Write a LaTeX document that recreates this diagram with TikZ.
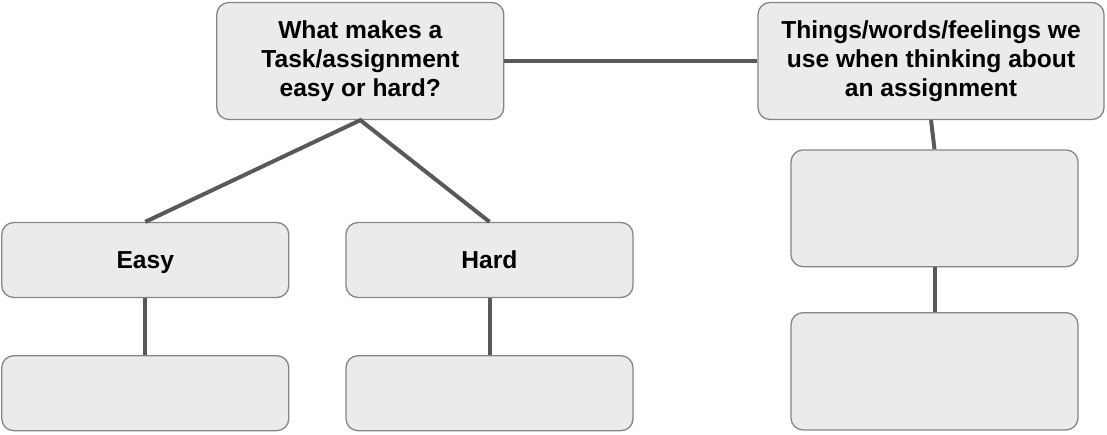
\documentclass[tikz,border=0pt]{standalone}
\usepackage{fontspec}
\setmainfont{Liberation Sans}
\usepackage{tikz}

\begin{document}
\begin{tikzpicture}[x=1pt,y=-1pt,
  box/.style={draw=black!48,line width=1.3pt,fill=black!8,rounded corners=12pt,
    inner sep=0pt,align=center,minimum width=287pt,
    font=\bfseries\fontsize{24.6}{29.3}\selectfont},
  single/.style={box,minimum height=75pt,text height=17.5pt,text depth=0pt},
  link/.style={draw=black!65,line width=4pt}]
\useasboundingbox (0,0) rectangle (1107,434);

\node[box,minimum height=117pt] (task) at (360.3,61) {What makes a\\Task/assignment\\easy or hard?};
\node[box,minimum width=346pt,minimum height=117pt] (things) at (931,61) {Things/words/feelings we\\use when thinking about\\an assignment};

\node[single] (easy) at (145.3,260) {Easy};
\node[single] (hard) at (489.5,260) {Hard};
\node[box,minimum height=75pt] (easylist) at (145.3,393.2) {};
\node[box,minimum height=75pt] (hardlist) at (489.5,393.2) {};

\node[box,minimum height=116.7pt] (words) at (934.5,208.3) {};
\node[box,minimum height=117.3pt] (feelings) at (934.5,371.3) {};

\draw[link] (task.east) -- (things.west);
\draw[link] (easy.north) -- (task.south) -- (hard.north);
\draw[link] (easy) -- (easylist);
\draw[link] (hard) -- (hardlist);
\draw[link] (things.south) -- (words.north);
\draw[link] (words) -- (feelings);
\end{tikzpicture}
\end{document}
